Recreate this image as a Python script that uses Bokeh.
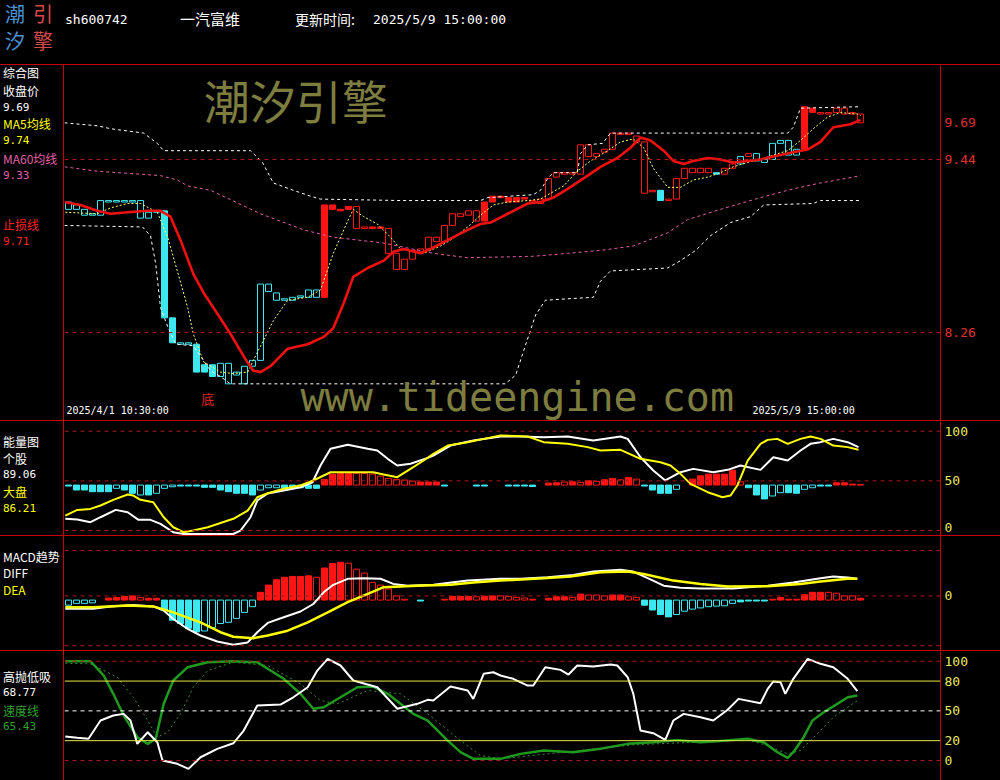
from bokeh.plotting import figure
from bokeh.models import (ColumnDataSource, Span, Label, FixedTicker,
                          Range1d, Div, PrintfTickFormatter, GlobalInlineStyleSheet)
from bokeh.layouts import column, row
from bokeh.embed import file_html
from bokeh.resources import INLINE

# ---------------------------------------------------------------- data
bar_index = list(range(100))
body_hi = [9.15, 9.13, 9.10, 9.07, 9.16, 9.16, 9.16, 9.16, 9.16, 9.16,
           9.08, 9.09, 9.09, 8.36, 8.19, 8.19, 8.18, 8.04, 8.04, 8.05,
           8.05, 7.99, 8.03, 8.07, 8.59, 8.59, 8.53, 8.49, 8.50, 8.51,
           8.55, 8.55, 9.13, 9.13, 9.10, 9.12, 9.12, 8.98, 8.98, 8.98,
           8.97, 8.80, 8.76, 8.82, 8.83, 8.91, 8.91, 8.99, 9.07, 9.07,
           9.09, 9.09, 9.15, 9.19, 9.19, 9.18, 9.18, 9.18, 9.16, 9.17,
           9.31, 9.35, 9.35, 9.35, 9.54, 9.54, 9.48, 9.51, 9.62, 9.62,
           9.62, 9.60, 9.56, 9.23, 9.23, 9.17, 9.31, 9.38, 9.38, 9.38,
           9.38, 9.35, 9.38, 9.41, 9.46, 9.48, 9.48, 9.44, 9.55, 9.57,
           9.57, 9.51, 9.80, 9.79, 9.76, 9.76, 9.79, 9.79, 9.76, 9.75]
body_lo = [9.10, 9.10, 9.06, 9.06, 9.06, 9.15, 9.15, 9.15, 9.15, 9.04,
           9.04, 9.08, 8.36, 8.19, 8.18, 8.18, 7.99, 7.99, 7.96, 7.96,
           7.91, 7.97, 7.91, 8.03, 8.07, 8.54, 8.48, 8.48, 8.48, 8.50,
           8.50, 8.50, 8.50, 9.10, 9.09, 9.10, 8.97, 8.97, 8.97, 8.97,
           8.80, 8.69, 8.69, 8.76, 8.81, 8.83, 8.88, 8.88, 8.99, 9.05,
           9.06, 9.02, 9.02, 9.15, 9.18, 9.15, 9.15, 9.17, 9.15, 9.14,
           9.17, 9.32, 9.34, 9.34, 9.34, 9.46, 9.46, 9.49, 9.51, 9.61,
           9.61, 9.56, 9.21, 9.22, 9.16, 9.16, 9.17, 9.31, 9.35, 9.35,
           9.35, 9.34, 9.34, 9.38, 9.41, 9.46, 9.43, 9.42, 9.44, 9.55,
           9.47, 9.47, 9.51, 9.76, 9.75, 9.75, 9.76, 9.75, 9.75, 9.69]
candle_kind = ["ch", "ch", "ch", "ch", "ch", "ch", "ch", "ch", "ch", "ch",
               "ch", "ch", "cf", "cf", "ch", "ch", "cf", "cf", "cf", "ch",
               "ch", "ch", "ch", "ch", "ch", "ch", "ch", "ch", "ch", "ch",
               "ch", "ch", "rf", "rf", "rf", "rf", "rh", "rh", "rf", "rf",
               "rh", "rh", "rh", "rh", "rh", "rh", "rh", "rh", "rh", "rh",
               "rh", "rh", "rf", "rf", "rf", "rf", "rf", "rf", "rh", "rh",
               "rh", "rh", "rh", "rh", "rh", "rh", "rh", "rh", "rh", "rh",
               "rh", "rh", "rh", "rh", "cf", "rh", "rh", "rh", "rh", "rh",
               "rh", "cf", "rh", "rh", "ch", "rh", "ch", "ch", "ch", "ch",
               "ch", "ch", "rf", "rf", "rh", "rh", "rh", "rh", "rh", "rh"]

stop_x = [-0.5, 1.5, 3.6, 5.25, 7.4, 9.9, 11.5, 12.75, 14, 15.6, 16.9, 18.6, 20.25, 22.1, 23.1,
          24, 25.25, 27.4, 29.9, 31.9, 33.1, 34.4, 35.6, 37.4, 39.4, 40.6, 41.9, 44, 45.6, 47.75,
          49.9, 51.5, 52.75, 54.9, 57.4, 59, 60.6, 62.4, 64.9, 66.5, 68.6, 70.25, 71.5, 72.75, 74.4,
          75.6, 76.9, 78.1, 79.9, 81.5, 83.1, 84.9, 86.5, 88.1, 90.6, 92.5, 94, 95.6, 97.75, 99]
stop_y = [9.15, 9.13, 9.09, 9.07, 9.08, 9.09, 9.09, 9.05, 8.89, 8.66, 8.53, 8.39, 8.25, 8.08, 8.00,
          7.99, 8.03, 8.15, 8.18, 8.23, 8.29, 8.46, 8.64, 8.70, 8.75, 8.81, 8.83, 8.80, 8.84, 8.90,
          8.96, 9.00, 9.01, 9.07, 9.14, 9.15, 9.18, 9.24, 9.33, 9.39, 9.45, 9.52, 9.59, 9.57, 9.50,
          9.43, 9.41, 9.43, 9.45, 9.44, 9.42, 9.43, 9.44, 9.46, 9.49, 9.51, 9.56, 9.66, 9.68, 9.71]

ma60_x = [-0.5, 3.6, 11.5, 13.6, 14.9, 17.75, 24, 29.4, 33.1, 39.4, 45.6, 49.9, 58.1, 62.4, 66.5,
          70.6, 74.9, 77.4, 81.5, 86.5, 90.6, 94, 98.1, 99]
ma60_y = [9.39, 9.36, 9.33, 9.30, 9.26, 9.23, 9.07, 8.96, 8.91, 8.87, 8.80, 8.77, 8.78, 8.80, 8.82,
          8.85, 8.94, 9.03, 9.10, 9.18, 9.24, 9.28, 9.32, 9.33]

upper_x = [-0.5, 3.6, 5.25, 9.4, 11.1, 11.9, 16.5, 22.75, 24.25, 25.6, 28.1, 30.25, 31.5, 41.5, 51.5,
           52.4, 58.1, 59, 59.9, 60.6, 63.6, 64, 64.9, 66.75, 67.75, 76.5, 89.9, 90.6, 91.5, 99]
upper_y = [9.69, 9.67, 9.65, 9.62, 9.55, 9.50, 9.50, 9.50, 9.42, 9.28, 9.23, 9.19, 9.17, 9.16, 9.16,
           9.18, 9.20, 9.23, 9.31, 9.35, 9.35, 9.48, 9.54, 9.55, 9.62, 9.62, 9.62, 9.66, 9.79, 9.80]
lower_x = [-0.5, 9.25, 10.25, 10.9, 11.5, 12.4, 13.4, 15.6, 17.75, 19, 20.25, 54.6, 55.9, 57.1, 58.4,
           59.6, 62.4, 65.6, 66.5, 67.75, 74.9, 76.5, 78.4, 80.25, 82.75, 85.25, 86.9, 93.1, 94, 99]
lower_y = [8.99, 8.98, 8.92, 8.73, 8.43, 8.30, 8.18, 8.17, 8.00, 7.96, 7.91, 7.91, 7.97, 8.17, 8.38,
           8.48, 8.49, 8.50, 8.61, 8.68, 8.70, 8.75, 8.82, 8.92, 9.01, 9.05, 9.13, 9.14, 9.16, 9.16]

ma5_x = [-0.4, 3.6, 5.25, 7.4, 9, 11.1, 12.4, 13.6, 14.9, 15.6, 16.9, 19, 20.6, 22.4, 23.1,
         24.4, 25.6, 27.4, 29.9, 31.5, 33.1, 34.9, 35.6, 36.9, 38.6, 40.25, 41.5, 43.1, 44.4, 46.5,
         47.75, 49.9, 51.5, 53.1, 54.9, 57.4, 59, 60.25, 61.9, 63.6, 65.25, 67.4, 69, 70.6, 71.9,
         73.1, 74.9, 76.5, 78.1, 79.9, 81.5, 83.1, 84.9, 86.5, 88.1, 89.9, 91.5, 93.1, 94.9, 96.5,
         98.6, 99]
ma5_y = [9.08, 9.07, 9.11, 9.14, 9.14, 9.08, 8.91, 8.68, 8.43, 8.25, 8.06, 7.99, 7.98, 7.99, 8.07,
         8.21, 8.34, 8.48, 8.50, 8.55, 8.80, 9.02, 9.10, 9.05, 9.00, 8.91, 8.83, 8.81, 8.80, 8.85,
         8.89, 8.98, 9.06, 9.13, 9.15, 9.16, 9.17, 9.21, 9.26, 9.36, 9.43, 9.50, 9.56, 9.58, 9.52,
         9.38, 9.25, 9.25, 9.30, 9.32, 9.35, 9.39, 9.42, 9.44, 9.47, 9.50, 9.57, 9.65, 9.73, 9.76,
         9.75, 9.74]
price_ticks = [9.69, 9.44, 8.26]
price_levels = [9.44, 8.26]

# energy panel (能量图)
stock_x = [-0.4, 1.1, 2.75, 4, 5.9, 7.4, 8.75, 10.25, 11.5, 13.1, 14.4, 20.6, 21.5, 22.75, 23.6,
           24.9, 26.9, 29, 30.5, 31.5, 32.75, 34.9, 37.4, 38.6, 39.9, 41.1, 42.75, 44.9, 45.6, 47.75,
           50.6, 54, 56.5, 59.4, 62.4, 65.6, 69, 69.9, 71.5, 73.1, 74.6, 76.5, 78.1, 80.6, 82.4,
           84, 86.5, 88.1, 89.9, 91.5, 92.75, 94, 95.6, 97.4, 98.75]
stock_y = [11.8, 11.1, 8.4, 13.4, 20.8, 18.4, 10.8, 10.8, 6.7, -1.7, -3.5, -3.5, 0, 13.4, 30.2,
           37.3, 40.3, 43.6, 48.6, 65.5, 82.3, 86.3, 82.3, 80.6, 72.2, 65.5, 67.2, 73.2, 75.5, 85.6,
           90.6, 94.7, 94.7, 94.0, 94.7, 90.6, 94.7, 92.3, 73.8, 60.4, 50.4, 58.7, 62.1, 58.7, 61.1,
           65.5, 61.1, 73.8, 70.5, 80.6, 87.3, 89.0, 92.3, 89.0, 84.0]
market_x = [-0.4, 1.1, 2.75, 4, 5.6, 7.4, 8.1, 9, 10.6, 11.9, 13.1, 14.4, 15.6, 17.4, 20.6,
            22.4, 23.6, 24.9, 26.9, 29, 30.6, 32.75, 35.6, 38.1, 39.4, 41.1, 42.75, 44.4, 45.6, 47.4,
            49.9, 51.9, 54, 57.4, 59.4, 62.4, 64.9, 66.5, 69, 71.5, 74, 75.25, 76.5, 77.75, 79.9,
            81.75, 82.75, 83.6, 84.9, 86.5, 87.4, 88.6, 89.9, 91.5, 92.75, 94, 95.6, 97.4, 98.75]
market_y = [15.1, 20.8, 21.8, 25.2, 30.9, 36.3, 35.2, 30.9, 28.5, 13.4, 3.3, -1.7, 0, 3.3, 11.8,
            20.1, 33.5, 37.6, 42.0, 45.3, 50.4, 58.7, 58.7, 58.7, 56.4, 53.7, 62.1, 70.5, 77.2, 85.6,
            89.0, 92.3, 95.7, 94.7, 89.0, 87.3, 84.0, 80.6, 81.3, 72.2, 68.8, 65.5, 57.1, 47.0, 38.6,
            33.5, 35.2, 45.3, 70.5, 87.3, 91.3, 92.3, 87.3, 92.3, 94.7, 92.3, 85.6, 84.0, 81.3]
energy_bar = [-1, -5, -5, -6.7, -6.7, -6.7, -3.3, -5, -8.3, -10,
              -10, -8.3, -3.3, -1.7, -1, -1, -1, -2.3, -2.3, -5,
              -6.7, -8.3, -8.3, -10, -5, -2.7, -2.7, -3.3, -3.3, -2.7,
              -3.3, -3.3, 5.7, 11, 11.7, 11.7, 11.7, 11.7, 11, 9,
              6.7, 5.7, 5, 4, 3, 3, 3, -1, 0, 0,
              0, -1, -1, 0, 0, -1, -1, -1, -1.5, 0,
              2, 2.3, 3, 3.3, 2.7, 4.3, 3.7, 5.3, 6.7, 5.3,
              7.7, 6, -1, -5, -8.3, -8.3, -4.3, 0, 6, 9.3,
              11, 11, 11, 15, 3.3, -2.7, -10, -14, -11, -7.7,
              -7.7, -8.3, -4.3, -2.7, -1, -1, 2.3, 2.3, 1, 0.5]
energy_fill = ["f", "f", "f", "f", "f", "f", "h", "f", "f", "h",
               "f", "h", "h", "h", "f", "f", "f", "f", "f", "f",
               "f", "f", "f", "f", "h", "h", "h", "f", "f", "h",
               "f", "f", "f", "f", "f", "f", "h", "h", "h", "h",
               "h", "h", "h", "h", "f", "f", "f", "f", "f", "f",
               "f", "f", "f", "f", "f", "f", "f", "f", "f", "f",
               "f", "f", "h", "f", "h", "f", "h", "f", "f", "h",
               "f", "h", "f", "f", "f", "f", "h", "f", "f", "f",
               "f", "f", "f", "f", "h", "f", "f", "f", "h", "h",
               "f", "f", "h", "h", "f", "f", "f", "f", "f", "f"]
energy_base = 45.8
energy_levels = [0, 50, 100]
energy_ticks = [3, 50, 100]
energy_tick_text = {3: "0", 50: "50", 100: "100"}

# MACD panel
macd_bar = [-0.017, -0.011, -0.011, -0.009, 0, 0.007, 0.009, 0.012, 0.014, 0.008,
            0.006, 0.006, -0.033, -0.067, -0.078, -0.094, -0.106, -0.103, -0.092, -0.078,
            -0.074, -0.061, -0.041, -0.022, 0.026, 0.050, 0.068, 0.076, 0.079, 0.079,
            0.081, 0.076, 0.107, 0.122, 0.126, 0.123, 0.103, 0.090, 0.059, 0.050,
            0.037, 0.014, 0.003, 0, -0.003, 0, 0, 0.003, 0.012, 0.012,
            0.012, 0.011, 0.013, 0.014, 0.014, 0.012, 0.009, 0.007, 0.003, 0,
            0.006, 0.011, 0.011, 0.009, 0.020, 0.017, 0.017, 0.014, 0.017, 0.017,
            0.011, 0.009, -0.017, -0.033, -0.048, -0.056, -0.048, -0.037, -0.030, -0.026,
            -0.022, -0.020, -0.019, -0.011, -0.006, -0.003, -0.003, -0.003, 0.003, 0.009,
            0.003, 0.003, 0.018, 0.026, 0.026, 0.026, 0.023, 0.014, 0.014, 0.006]
macd_fill = ["h", "h", "h", "h", "f", "f", "f", "f", "f", "h",
             "f", "f", "f", "f", "f", "f", "f", "h", "h", "h",
             "h", "h", "h", "h", "f", "f", "f", "f", "f", "f",
             "f", "h", "f", "f", "f", "h", "h", "h", "h", "h",
             "h", "h", "h", "f", "f", "f", "f", "f", "f", "f",
             "f", "h", "f", "f", "h", "h", "h", "h", "f", "f",
             "f", "f", "f", "h", "f", "h", "h", "h", "f", "f",
             "h", "h", "f", "f", "f", "f", "h", "h", "h", "h",
             "h", "h", "h", "h", "f", "f", "f", "f", "f", "f",
             "f", "f", "f", "f", "f", "h", "h", "h", "h", "f"]
macd_base = -0.014
diff_x = [-0.4, 3.1, 5.25, 8.1, 10.6, 11.9, 13.1, 14.9, 16.5, 18.6, 20.6, 22.4, 23.6, 24.9, 26.9,
          29, 30.6, 31.9, 33.1, 34.9, 36.9, 39, 40.6, 42.4, 45.6, 49.9, 54, 56.5, 59.9, 63.1,
          65.6, 69, 70.6, 72.4, 74.4, 76.5, 79, 83.1, 87.4, 90.6, 94, 95.6, 97.4, 98.6]
diff_y = [-0.043, -0.043, -0.035, -0.030, -0.035, -0.049, -0.077, -0.110, -0.132, -0.152, -0.163,
          -0.155, -0.121, -0.090, -0.071, -0.052, -0.027, 0.012, 0.037, 0.057, 0.059, 0.057, 0.040,
          0.034, 0.037, 0.051, 0.057, 0.057, 0.062, 0.070, 0.081, 0.087, 0.081, 0.059, 0.034, 0.027,
          0.025, 0.025, 0.034, 0.045, 0.059, 0.065, 0.061, 0.057]
dea_x = [-0.4, 3.1, 7.4, 10.6, 13.1, 16.5, 19, 20.6, 23.1, 24.9, 27.4, 29.9, 32.4, 34.9, 37.4,
         39.4, 43.6, 47.75, 50.6, 54, 59.4, 62.75, 66.5, 69.9, 71.9, 75.6, 79, 82.4, 87.4, 91.5,
         94, 97.4, 98.6]
dea_y = [-0.038, -0.038, -0.032, -0.035, -0.055, -0.088, -0.121, -0.136, -0.141, -0.132, -0.116,
         -0.088, -0.055, -0.021, 0.007, 0.029, 0.034, 0.037, 0.045, 0.051, 0.059, 0.065, 0.079,
         0.081, 0.073, 0.051, 0.040, 0.031, 0.032, 0.040, 0.048, 0.057, 0.057]
macd_levels = [0.151, 0.0, -0.166]

# high/low panel (高抛低吸)
hl_x = [-0.4, 1.1, 2.5, 4, 5.6, 6.9, 7.75, 8.6, 9.9, 11.1, 11.75, 13.6, 15, 16.5, 18.6,
        20.6, 21.9, 23.6, 26.5, 28.1, 29.9, 31.1, 32.4, 34, 35.6, 38.6, 41.1, 43.6, 44.9, 45.6,
        47.75, 49.9, 50.6, 51.9, 53.1, 54, 55.6, 57.4, 58.1, 59.6, 61.5, 62.5, 63.6, 65.6, 67.75,
        68.6, 69.9, 70.6, 71.5, 73.1, 74.6, 75.6, 76.9, 79, 80.6, 82.4, 83.75, 86.5, 87.4, 88.1,
        89, 89.6, 90.6, 92.4, 94, 95.6, 97.4, 98.6]
hl_y = [24.2, 22.9, 21.9, 40.3, 45.3, 47.0, 40.3, 16.8, 28.5, 18.4, 0, -3.3, -8.4, 3.3, 11.8,
        17.4, 30.2, 55.4, 56.4, 63.7, 73.8, 90.6, 102.4, 95.7, 80.6, 73.8, 52.1, 57.1, 61.1, 60.4,
        74.5, 70.5, 62.1, 87.3, 88.9, 85.6, 82.3, 75.5, 75.5, 94.0, 91.3, 86.6, 95.7, 94.7, 96.7,
        95.7, 83.9, 67.2, 30.2, 27.5, 20.8, 40.3, 47.0, 43.6, 40.3, 51.1, 62.1, 57.7, 72.2, 79.6,
        78.9, 67.2, 82.3, 102.4, 97.4, 94.0, 82.3, 69.8]
speed_x = [-0.4, 2.75, 4.4, 5.6, 6.9, 8.6, 9.9, 10.9, 11.9, 13.1, 14.9, 17.4, 20.6, 23.6, 26.9,
           29, 30.6, 31.9, 34, 36.1, 38.1, 39.9, 41.5, 43.1, 44.9, 47.4, 49, 50.6, 54, 56.5,
           59.4, 63.1, 66.5, 69.9, 73.1, 76.1, 79, 81.1, 84.9, 86.9, 88.6, 89.9, 90.6, 91.9, 93,
           94.4, 96.1, 97.4, 98.6]
speed_y = [100, 100, 85.6, 67.2, 45.3, 23.5, 16.8, 21.9, 57.1, 80.6, 94, 99, 100, 99, 82.3,
           67.2, 52.1, 53.7, 63.7, 73.8, 74.5, 67.2, 57.1, 47, 40.3, 20.1, 8.4, 1.7, 1.7, 6.7,
           10.1, 8.4, 11.8, 16.8, 18.4, 20.8, 18.4, 19.4, 21.9, 18.4, 8.4, 2.7, 8.4, 23.5, 40.3,
           48.6, 57.1, 63.7, 65.5]
signal_x = [-0.4, 2.75, 6.1, 8.1, 9.9, 11.1, 12.4, 14, 15.6, 17.4, 20.6, 24.9, 29, 31.5, 33.6,
            37.4, 41.5, 44.9, 49, 51.5, 54, 70.6, 84.9, 87.4, 89.9, 91.5, 93.6, 95.6, 98.6]
signal_y = [98, 97.4, 83.9, 63.7, 40.3, 23.5, 28.5, 47, 73.8, 90.6, 99, 95.7, 77.2, 60.4, 57.1,
            70.5, 67.2, 47, 20.1, 5, 1.7, 15.8, 20.8, 15.1, 6.7, 10.1, 26.9, 43.6, 60.4]
hl_ticks = [0, 20, 50, 80, 100]

# left-column captions: (text, colour key)
main_caption = [("综合图", "w"), ("收盘价", "w"), ("9.69", "w"), ("MA5均线", "y"), ("9.74", "y"),
                ("MA60均线", "p"), ("9.33", "p"), ("止损线", "r"), ("9.71", "r")]
energy_caption = [("能量图", "w"), ("个股", "w"), ("89.06", "w"), ("大盘", "y"), ("86.21", "y")]
macd_caption = [("MACD趋势", "w"), ("DIFF", "w"), ("DEA", "y")]
hl_caption = [("高抛低吸", "w"), ("68.77", "w"), ("速度线", "g"), ("65.43", "g")]

# ---------------------------------------------------------------- style
FRAME = "#c80000"
GRID_RED = "#b01818"
C_RED = "#ff1414"
C_CYAN = "#3ce8f0"
WHITE = "#ffffff"
YELLOW = "#ffff00"
AXIS_YEL = "#e8e860"
PINK = "#e060a8"
GREEN = "#1f9a1f"
OLIVE = "#7d7d40"
CJK = "Noto Sans CJK SC"
MONO = "DejaVu Sans Mono"
XR = (-0.5, 109.0)
CAP_COLORS = {"w": "#ffffff", "y": "#ffff00", "p": "#e060a8", "r": "#ff2020", "g": "#2ea02e"}


def caption_div(height, items, tops):
    spans = []
    for (text, ck), top in zip(items, tops):
        numeric = text.replace(".", "").isdigit()
        fam = "'DejaVu Sans Mono'" if numeric else "'Noto Sans CJK SC'"
        size = "11px" if numeric else "12px"
        spans.append(
            f'<div style="position:absolute;left:3px;top:{top}px;height:14px;font-family:{fam};'
            f'font-size:{size};line-height:14px;color:{CAP_COLORS[ck]};white-space:nowrap">'
            f'{text}</div>')
    html = (f'<div style="position:relative;width:64px;height:{height}px;background:#000;'
            f'border-right:1px solid {FRAME};box-sizing:border-box">'
            + "".join(spans) + "</div>")
    return Div(text=html, width=64, height=height, margin=0,
               styles={"background-color": "#000000"})


def panel(height, y0, y1, ticks, fmt, tick_color, overrides=None):
    p = figure(width=936, height=height, x_range=Range1d(*XR), y_range=Range1d(y0, y1),
               output_backend="svg", toolbar_location=None, x_axis_location=None,
               y_axis_location="right", min_border_left=0, min_border_right=60,
               min_border_top=0, min_border_bottom=0, background_fill_color="#000000",
               border_fill_color="#000000", outline_line_color=None)
    p.xgrid.visible = False
    p.ygrid.visible = False
    ax = p.right[0]
    ax.ticker = FixedTicker(ticks=ticks)
    ax.formatter = PrintfTickFormatter(format=fmt)
    if overrides:
        ax.major_label_overrides = overrides
    ax.axis_line_color = FRAME
    ax.major_tick_line_color = None
    ax.minor_tick_line_color = None
    ax.major_tick_out = 0
    ax.major_label_standoff = 4
    ax.major_label_text_color = tick_color
    ax.major_label_text_font = MONO
    ax.major_label_text_font_size = "13px"
    return p


def level(p, y, color=GRID_RED, dash="4 4"):
    p.add_layout(Span(location=y, dimension="width", line_color=color,
                      line_dash=dash, line_width=1))


def bars(p, values, fills, base, width=0.75):
    for sign, col in ((1, C_RED), (-1, C_CYAN)):
        for f in ("f", "h"):
            xs, tops, bots = [], [], []
            for i, v, k in zip(bar_index, values, fills):
                if v * sign > 0 and k == f:
                    xs.append(i)
                    tops.append(base + max(v, 0))
                    bots.append(base + min(v, 0))
            if xs:
                src = ColumnDataSource(dict(x=xs, top=tops, bottom=bots))
                p.vbar(x="x", top="top", bottom="bottom", width=width, source=src,
                       fill_color=col if f == "f" else "#000000", line_color=col, line_width=1)


# ---------------------------------------------------------------- header
logo = "line-height:20px;font-size:20px;font-family:'Noto Sans CJK SC';position:absolute;"
header_html = (
    '<div style="position:relative;width:1000px;height:64px;background:#000;">'
    f'<span style="{logo}left:5px;top:4px;color:#4a90d0">潮</span>'
    f'<span style="{logo}left:33px;top:4px;color:#d84a4a">引</span>'
    f'<span style="{logo}left:5px;top:31px;color:#4a90d0">汐</span>'
    f'<span style="{logo}left:33px;top:31px;color:#d84a4a">擎</span>'
    '<span style="position:absolute;left:65px;top:12px;font-size:13px;line-height:16px;'
    "font-family:'DejaVu Sans Mono';color:#fff\">sh600742</span>"
    '<span style="position:absolute;left:180px;top:10px;font-size:15px;line-height:18px;'
    "font-family:'Noto Sans CJK SC';color:#fff\">一汽富维</span>"
    '<span style="position:absolute;left:295px;top:10px;font-size:14px;line-height:18px;'
    "font-family:'Noto Sans CJK SC';color:#fff;white-space:nowrap\">更新时间:</span>"
    '<span style="position:absolute;left:373px;top:12px;font-size:13px;line-height:16px;'
    "font-family:'DejaVu Sans Mono';color:#fff;white-space:nowrap\">2025/5/9 15:00:00</span>"
    '</div>')
header = Div(text=header_html, width=1000, height=64, margin=0,
             styles={"background-color": "#000000"})


def sep():
    return Div(text="", width=1000, height=1, margin=0, styles={"background-color": FRAME})


# ---------------------------------------------------------------- main panel
main = panel(355, 7.660, 10.081, price_ticks, "%.2f", "#e03030")
for y in price_levels:
    level(main, y)

for kind, col, filled in (("ch", C_CYAN, False), ("cf", C_CYAN, True),
                          ("rh", C_RED, False), ("rf", C_RED, True)):
    xs = [i for i, k in zip(bar_index, candle_kind) if k == kind]
    src = ColumnDataSource(dict(
        x=xs,
        top=[body_hi[i] for i in xs],
        bottom=[body_lo[i] for i in xs]))
    main.vbar(x="x", top="top", bottom="bottom", width=0.75, source=src,
              fill_color=col if filled else "#000000", line_color=col, line_width=1)

main.line(upper_x, upper_y, line_color=WHITE, line_dash="3 3", line_width=1)
main.line(lower_x, lower_y, line_color=WHITE, line_dash="3 3", line_width=1)
main.line(ma60_x, ma60_y, line_color=PINK, line_dash="3 3", line_width=1)
main.line(ma5_x, ma5_y, line_color="#ffff70", line_dash="2 2", line_width=1)
main.line(stop_x, stop_y, line_color="#f01010", line_width=2.6)

main.add_layout(Label(x=16.9, y=10.078, text="潮汐引擎", text_color=OLIVE, text_font=CJK,
                      text_font_size="46px", text_baseline="top"))
main.add_layout(Label(x=29.0, y=7.663, text="www.tideengine.com", text_color=OLIVE,
                      text_font=MONO, text_font_size="40px", text_baseline="bottom"))
main.add_layout(Label(x=17.4, y=7.81, text="底", text_color="#e02020", text_font=CJK,
                      text_font_size="13px", text_baseline="middle", text_align="center"))
main.add_layout(Label(x=-0.25, y=7.728, text="2025/4/1 10:30:00", text_color=WHITE,
                      text_font=MONO, text_font_size="10px", text_baseline="middle"))
main.add_layout(Label(x=85.5, y=7.728, text="2025/5/9 15:00:00", text_color=WHITE,
                      text_font=MONO, text_font_size="10px", text_baseline="middle"))
main_left = caption_div(355, main_caption, [1, 19, 36, 52, 69, 87, 104, 153, 170])

# ---------------------------------------------------------------- energy panel
energy = panel(114, -5.0, 109.8, energy_ticks, "%d", AXIS_YEL, energy_tick_text)
for y in energy_levels:
    level(energy, y)
bars(energy, energy_bar, energy_fill, energy_base)
energy.line(stock_x, stock_y, line_color=WHITE, line_width=2)
energy.line(market_x, market_y, line_color=YELLOW, line_width=2)
energy_left = caption_div(114, energy_caption, [14, 31, 47, 64, 81])

# ---------------------------------------------------------------- MACD panel
macd = panel(114, -0.182, 0.198, [0], "%d", AXIS_YEL)
for y in macd_levels:
    level(macd, y)
bars(macd, macd_bar, macd_fill, macd_base)
macd.line(diff_x, diff_y, line_color=WHITE, line_width=2)
macd.line(dea_x, dea_y, line_color=YELLOW, line_width=2.5)
macd_left = caption_div(114, macd_caption, [14, 30, 47])

# ---------------------------------------------------------------- high / low panel
hl = panel(129, -20.1, 109.8, hl_ticks, "%d", AXIS_YEL)
level(hl, 100)
level(hl, 0)
level(hl, 50, color=WHITE, dash="4 4")
level(hl, 80, color="#e8e840", dash="solid")
level(hl, 20, color="#e8e840", dash="solid")
hl.line(signal_x, signal_y, line_color="#3c8c3c", line_dash="2 3", line_width=1)
hl.line(speed_x, speed_y, line_color=GREEN, line_width=2.5)
hl.line(hl_x, hl_y, line_color=WHITE, line_width=2)
hl_left = caption_div(129, hl_caption, [19, 35, 53, 69])

page_css = GlobalInlineStyleSheet(
    css="html, body { margin: 0; padding: 0; background: #000000; overflow: hidden; }")
layout = column(header, sep(),
                row(main_left, main, spacing=0), sep(),
                row(energy_left, energy, spacing=0), sep(),
                row(macd_left, macd, spacing=0), sep(),
                row(hl_left, hl, spacing=0),
                spacing=0, stylesheets=[page_css], styles={"background-color": "#000000"})

open("out.html", "w").write(file_html(layout, INLINE))
